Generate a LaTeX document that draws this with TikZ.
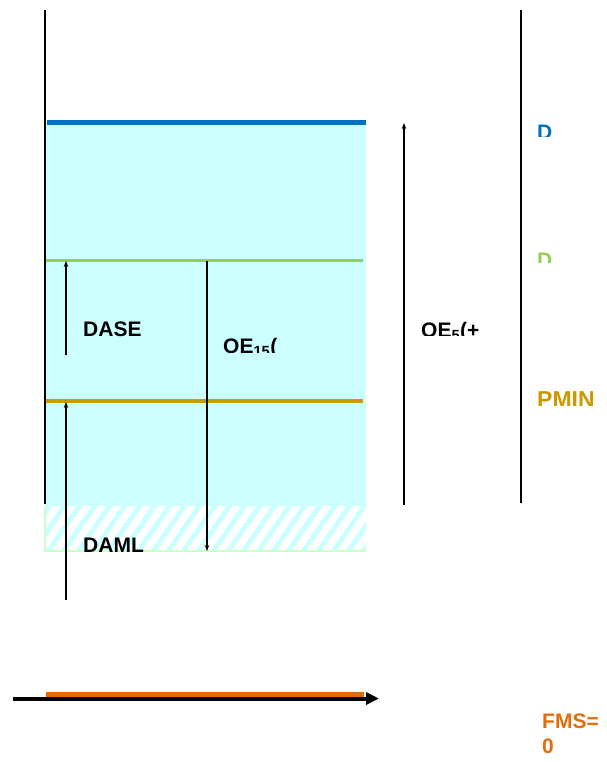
\documentclass[tikz,border=0pt]{standalone}
\usepackage{fontspec}
\setmainfont{Liberation Sans}
\usetikzlibrary{arrows.meta}
\tikzset {>=Stealth}
\definecolor{watercol}{HTML}{CCFFFF}
\definecolor{topcol}{HTML}{0070C0}
\definecolor{midcol}{HTML}{92D050}
\definecolor{lowcol}{HTML}{CC9900}
\definecolor{flowcol}{HTML}{E46C0A}
\definecolor{edgecol}{HTML}{CCFFCC}

\begin{document}
\begin{tikzpicture}[x=1pt,y=-1pt,
  lbl/.style={inner sep=0pt,anchor=base west,font=\fontsize{21}{25}\selectfont\bfseries},
  dim/.style={->,line width=1.3pt,>={Stealth[length=6pt,width=4.5pt]}}]
\useasboundingbox (0,0) rectangle (606,762);

% water body
\fill[watercol] (45,123) rectangle (366,506);
\begin{scope}
  \clip (45,506) rectangle (366,551);
  \foreach \x in {0,15,...,375}
    \draw[watercol,line width=5pt] (\x,556) -- ++(38,-55);
\end{scope}
\draw[edgecol,line width=2pt] (45,506) -- (45,551) -- (366,551);

% levels
\draw[topcol,line width=5pt] (47,123) -- (366,123);
\draw[midcol,line width=3.5pt] (45,260.5) -- (363,260.5);
\draw[lowcol,line width=3.5pt] (45,401) -- (363,401);

% walls
\draw[line width=2pt] (45,10) -- (45,504);
\draw[line width=2pt] (521,10) -- (521,503);

% dimension arrows
\path
  (66,355) coordinate (A1)
  (66,261) coordinate (A2)
  (66,600) coordinate (B1)
  (66,402) coordinate (B2)
  (207,261) coordinate (C1)
  (207,551) coordinate (C2)
  (404,505) coordinate (D1)
  (404,123) coordinate (D2);
\draw[dim] (A1) -- (A2);
\draw[dim] (B1) -- (B2);
\draw[dim] (C1) -- (C2);
\draw[dim] (D1) -- (D2);

% flow axis
\path (13,698.5) coordinate (E1) (379,698.5) coordinate (E2)
      (46,694.5) coordinate (F1) (364,694.5) coordinate (F2);
\draw[line width=4pt,-{Triangle[length=13pt,width=12pt]}] (E1) -- (E2);
\draw[flowcol,line width=5.5pt] (F1) -- (F2);

% labels
\node[lbl] (dase) at (83,336) {DASE};
\node[lbl] (daml) at (83,552) {DAML};
\begin{scope}
  \clip (210,300) rectangle (300,352);
  \node[lbl] (oefifteen) at (223,353) {OE\textsubscript{15}(};
\end{scope}
\begin{scope}
  \clip (410,300) rectangle (500,335);
  \node[lbl] (oefive) at (421,337) {OE\textsubscript{5}(+};
\end{scope}
\begin{scope}
  \clip (530,100) rectangle (606,137);
  \node[lbl,topcol] (dtop) at (537,140) {D};
\end{scope}
\begin{scope}
  \clip (530,230) rectangle (606,262);
  \node[lbl,midcol] (dmid) at (537,267) {D};
\end{scope}
\begin{scope}
  \clip (530,370) rectangle (606,405);
  \node[lbl,lowcol,font=\fontsize{23}{25}\selectfont\bfseries] (pmin) at (537,407) {PMIN};
\end{scope}
\node[lbl,flowcol,align=left,font=\fontsize{21}{25}\selectfont\bfseries] (fms) at (542,753) {FMS=\\0};
\end{tikzpicture}
\end{document}
